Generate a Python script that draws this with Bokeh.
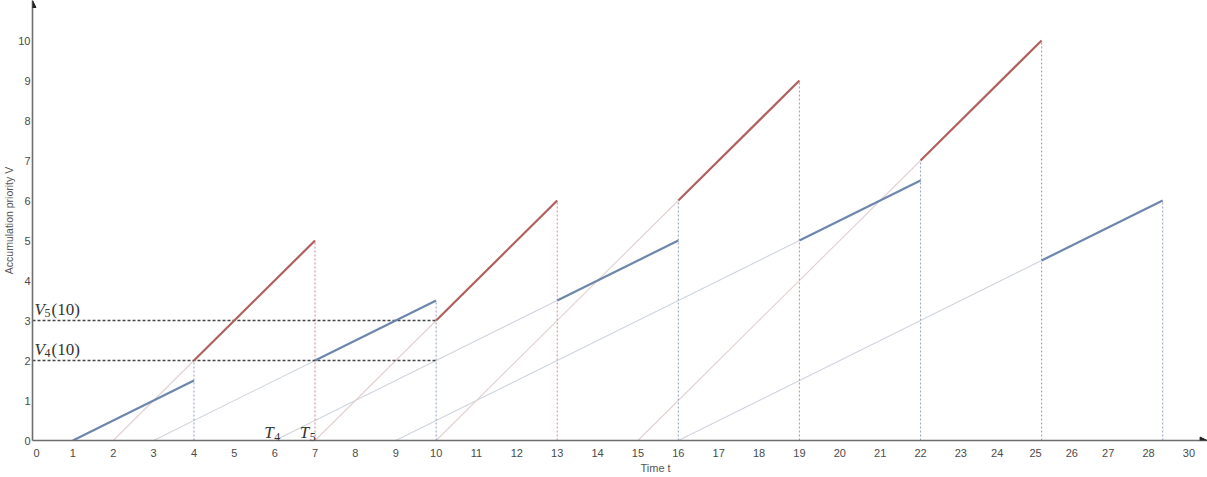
from bokeh.plotting import figure
from bokeh.models import Range1d, FixedTicker, Label, Arrow, NormalHead, Title
from bokeh.embed import file_html
from bokeh.resources import INLINE

# ---- data ----
# thick segments (service periods)
thick_x0 = [1, 4, 7, 10, 13, 16, 19, 22, 25]
thick_x1 = [4, 7, 10, 13, 16, 19, 22, 25, 28]
thick_y0 = [0, 2, 2, 3, 3.5, 6, 5, 7, 4.5]
thick_y1 = [1.5, 5, 3.5, 6, 5, 9, 6.5, 10, 6]
thick_cls = ["b", "r", "b", "r", "b", "r", "b", "r", "b"]

# thin waiting lines (accumulation while waiting)
wait_x0 = [2, 3, 6, 7, 9, 10, 15, 16]
wait_y0 = [0, 0, 0, 0, 0, 0, 0, 0]
wait_x1 = [4, 7, 13, 10, 19, 16, 22, 25]
wait_y1 = [2, 2, 3.5, 3, 5, 6, 7, 4.5]
wait_cls = ["r", "b", "b", "r", "b", "r", "r", "b"]

# dotted verticals at the end of each service
vert_x = [4, 7, 10, 13, 16, 19, 22, 25, 28]
vert_top = [2, 5, 3.5, 6, 6, 9, 7, 10, 6]
vert_cls = ["b", "r", "b", "r", "b", "r", "b", "r", "b"]

# horizontal reference levels and their labels
ref_y = [3, 2]
ref_x_end = [10, 10]
ref_sym = ["V", "V"]
ref_sub = ["5", "4"]
ref_arg = ["(10)", "(10)"]
# arrival-time labels
arr_sym = ["T", "T"]
arr_sub = ["4", "5"]
arr_x = [5.74, 6.62]

# tick labels
x_tick_pos = [0.1, 1, 2, 3, 4, 5, 6, 7, 8, 9, 10, 11, 12, 13, 14, 15, 16, 17, 18,
              19, 20, 21, 22, 23, 23.9, 24.85, 25.75, 26.65, 27.65, 28.65]
x_tick_lab = ["0", "1", "2", "3", "4", "5", "6", "7", "8", "9", "10", "11", "12",
              "13", "14", "15", "16", "17", "18", "19", "20", "21", "22", "23",
              "24", "25", "26", "27", "28", "30"]
y_tick_pos = [0, 1, 2, 3, 4, 5, 6, 7, 8, 9, 10]

col_thick = {"b": "#6d86ad", "r": "#b0605e"}
col_thin = {"b": "#cfd4de", "r": "#e2d0d0"}
col_vert = {"b": "#9aa5c2", "r": "#cf9494"}

p = figure(width=1207, height=477, x_range=Range1d(0, 29.11), y_range=Range1d(0, 11.0),
           output_backend="svg", toolbar_location=None,
           min_border_left=31, min_border_right=0, min_border_top=0, min_border_bottom=37)
p.outline_line_color = None
p.grid.visible = False
p.background_fill_color = "white"
p.border_fill_color = "white"

# thin waiting lines
p.segment(x0=wait_x0, y0=wait_y0, x1=wait_x1, y1=wait_y1,
          line_color=[col_thin[c] for c in wait_cls], line_width=1.1)

# dotted verticals
p.segment(x0=vert_x, y0=[0] * len(vert_x), x1=vert_x, y1=vert_top,
          line_color=[col_vert[c] for c in vert_cls], line_width=1.1, line_dash="2 2")

# horizontal dashed reference lines
p.segment(x0=[0] * len(ref_y), y0=ref_y, x1=ref_x_end, y1=ref_y,
          line_color="#444444", line_width=1.3, line_dash="3 2")

# thick service segments
p.segment(x0=thick_x0, y0=thick_y0, x1=thick_x1, y1=thick_y1,
          line_color=[col_thick[c] for c in thick_cls], line_width=2.2)


def math_label(x, y, sym, sub, arg=None):
    common = dict(text_font="Liberation Serif", text_color="#333333",
                  text_baseline="alphabetic")
    p.add_layout(Label(x=x, y=y, text=sym, text_font_style="italic",
                       text_font_size="17px", **common))
    p.add_layout(Label(x=x, y=y, x_offset=10, y_offset=-4, text=sub,
                       text_font_size="12px", **common))
    if arg:
        p.add_layout(Label(x=x, y=y, x_offset=17, text=arg,
                           text_font_size="17px", **common))


for yv, s, sb, a in zip(ref_y, ref_sym, ref_sub, ref_arg):
    math_label(0.05, yv + 0.28, s, sb, a)
for xv, s, sb in zip(arr_x, arr_sym, arr_sub):
    math_label(xv, 0.2, s, sb)

# axes
for ax in (p.xaxis[0], p.yaxis[0]):
    ax.axis_line_color = "#6e6e6e"
    ax.axis_line_width = 1.6
    ax.major_tick_line_color = None
    ax.minor_tick_line_color = None
    ax.major_tick_out = 0
    ax.major_tick_in = 0
    ax.minor_tick_out = 0
    ax.major_label_text_font = "Liberation Sans"
    ax.major_label_text_font_size = "11px"
    ax.major_label_text_color = "#4a4a4a"

p.xaxis.ticker = FixedTicker(ticks=x_tick_pos)
p.xaxis.major_label_overrides = {k: v for k, v in zip(x_tick_pos, x_tick_lab)}
p.xaxis.major_label_standoff = 8

p.yaxis.ticker = FixedTicker(ticks=y_tick_pos)
p.yaxis.major_label_standoff = 2
p.yaxis.axis_label = "Accumulation priority V"
p.yaxis.axis_label_text_font = "Liberation Sans"
p.yaxis.axis_label_text_font_size = "10.5px"
p.yaxis.axis_label_text_font_style = "normal"
p.yaxis.axis_label_text_color = "#555555"
p.yaxis.axis_label_standoff = 0

xt = Title(text="Time t", align="left", offset=608, text_font="Liberation Sans",
           text_font_size="11px", text_font_style="normal", text_color="#555555",
           standoff=0)
p.add_layout(xt, "below")

# axis arrow heads
p.add_layout(Arrow(end=NormalHead(size=7, fill_color="#222222", line_color="#222222"),
                   x_start=0, y_start=10.7, x_end=0, y_end=11.0, line_alpha=0))
p.add_layout(Arrow(end=NormalHead(size=7, fill_color="#222222", line_color="#222222"),
                   x_start=28.8, y_start=0, x_end=29.1, y_end=0, line_alpha=0))

open("out.html", "w").write(file_html(p, INLINE))
